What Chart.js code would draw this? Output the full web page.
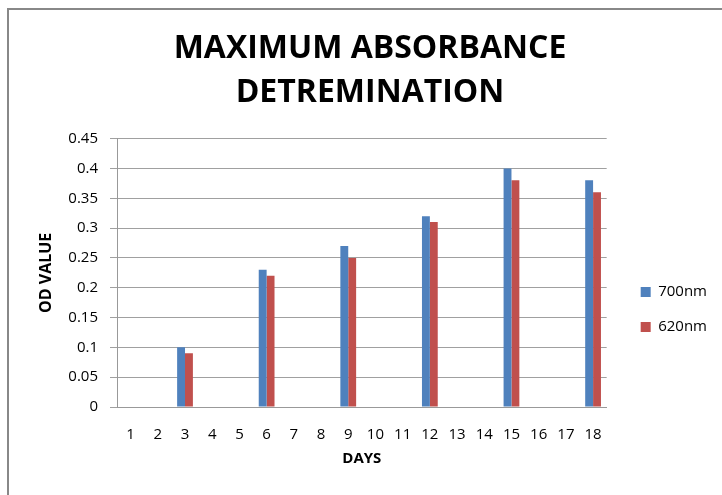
<!DOCTYPE html>
<html>
<head>
<meta charset="utf-8">
<script src="https://cdn.jsdelivr.net/npm/chart.js@4.4.1/dist/chart.umd.min.js"></script>
<style>
  body { margin: 0; background: #fff; }
  #frame { position: absolute; left: 7px; top: 8px; width: 740px; height: 500px;
           border-left: 2px solid #888; border-top: 2px solid #888; }
  #wrap { position: absolute; left: 0; top: 0; width: 722px; height: 495px; }
</style>
</head>
<body>
<div id="frame"></div>
<div id="wrap"><canvas id="chart" width="722" height="495"></canvas></div>
<script>
// days on the x axis
var days = ["1","2","3","4","5","6","7","8","9","10","11","12","13","14","15","16","17","18"];
// OD readings, only every third day was measured
var od700 = [null,null,0.10,null,null,0.23,null,null,0.27,null,null,0.32,null,null,0.40,null,null,0.38];
var od620 = [null,null,0.09,null,null,0.22,null,null,0.25,null,null,0.31,null,null,0.38,null,null,0.36];
var seriesNames = ["700nm", "620nm"];

var blue = "#4f81bd"; var red = "#c0504d";
var font = "'Open Sans', 'DejaVu Sans', sans-serif";

// nudge the legend so it sits like the excel one
var legendShift = {
  id: "legendShift",
  afterLayout: function(c) {
    var lg = c.legend;
    lg.left += 14; lg.right += 14;
    lg.top += 62; lg.bottom += 62;
  }
};

var chart = new Chart(document.getElementById("chart"), {
  type: "bar",
  data: {
    labels: days,
    datasets: [
      { label: seriesNames[0], data: od700, backgroundColor: blue },
      { label: seriesNames[1], data: od620, backgroundColor: red }
    ]
  },
  plugins: [legendShift],
  options: {
    responsive: false,
    animation: false,
    layout: { padding: { left: 37, right: 19, top: 0, bottom: 0 } },
    datasets: { bar: { categoryPercentage: 0.58, barPercentage: 1.0, skipNull: false } },
    plugins: {
      tooltip: { enabled: false },
      title: {
        display: true,
        text: ["MAXIMUM ABSORBANCE", "DETREMINATION"],
        color: "#000",
        font: { family: font, size: 32, weight: "bold", lineHeight: 1.4 },
        padding: { top: 26, bottom: 23 }
      },
      legend: {
        position: "right",
        labels: {
          color: "#000",
          font: { family: font, size: 15 },
          boxWidth: 10, boxHeight: 10,
          padding: 20
        }
      }
    },
    scales: {
      x: {
        grid: { display: false, drawTicks: false },
        border: { color: "#999", width: 1 },
        ticks: { color: "#000", font: { family: font, size: 15 }, padding: 19, maxRotation: 0, autoSkip: false },
        title: { display: true, text: "DAYS", color: "#000", font: { family: font, size: 15, weight: "bold" }, padding: { top: 0, bottom: 27 } },
        afterFit: function(scale) { scale.height = 88; }
      },
      y: {
        min: 0, max: 0.45,
        ticks: { stepSize: 0.05, color: "#000", font: { family: font, size: 15 }, padding: 12,
                 callback: function(v) { return +v.toFixed(2); } },
        grid: { color: "#a0a0a0", tickLength: 7, lineWidth: 1 },
        border: { color: "#999" },
        title: { display: true, text: "OD VALUE", color: "#000", font: { family: font, size: 16, weight: "bold" }, padding: { top: 0, bottom: 4 } },
        afterFit: function(scale) { scale.width = 80; }
      }
    }
  }
});
</script>
</body>
</html>
